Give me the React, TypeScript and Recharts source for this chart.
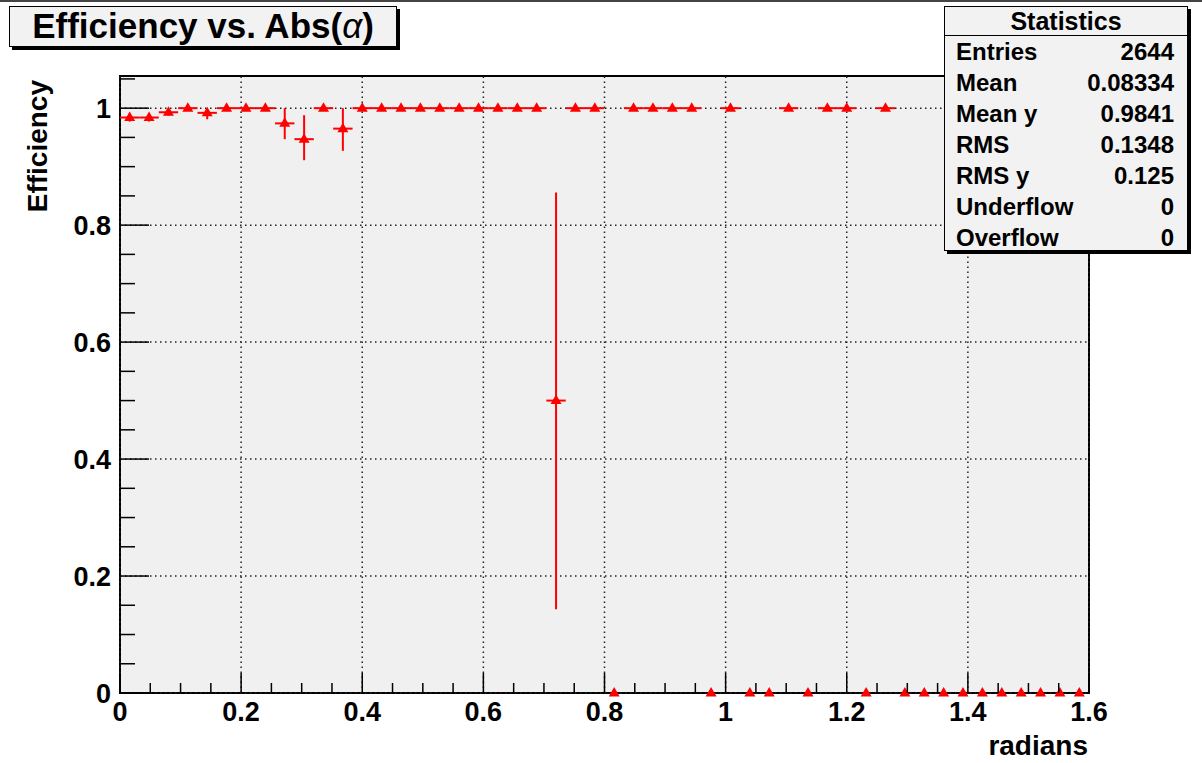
import React from 'react';
import {
  ComposedChart,
  Scatter,
  XAxis,
  YAxis,
  ErrorBar,
  ReferenceLine,
  ReferenceArea,
} from 'recharts';

// ---- histogram binning ----
const X_MIN = 0;
const X_MAX = 1.6;
const N_BINS = 50;
const Y_MAX = 1.055;

// ---- series values (efficiency per bin) ----
const efficiency = [
  0.984, 0.984, 0.993, 1, 0.992, 1, 1, 1, 0.974, 0.947,
  1, 0.965, 1, 1, 1, 1, 1, 1, 1, 1,
  1, 1, 0.5, 1, 1, 0, 1, 1, 1, 1,
  0, 1, 0, 0, 1, 0, 1, 1, 0, 1,
  0, 0, 0, 0, 0, 0, 0, 0, 0, 0,
];
const errLow = [
  0.007, 0.007, 0.006, 0, 0.011, 0, 0, 0, 0.027, 0.036,
  0, 0.038, 0, 0, 0, 0, 0, 0, 0, 0,
  0, 0, 0.357, 0, 0, 0, 0, 0, 0, 0,
  0, 0, 0, 0, 0, 0, 0, 0, 0, 0,
  0, 0, 0, 0, 0, 0, 0, 0, 0, 0,
];
const errHigh = [
  0.007, 0.007, 0.005, 0, 0.006, 0, 0, 0, 0.026, 0.041,
  0, 0.035, 0, 0, 0, 0, 0, 0, 0, 0,
  0, 0, 0.356, 0, 0, 0, 0, 0, 0, 0,
  0, 0, 0, 0, 0, 0, 0, 0, 0, 0,
  0, 0, 0, 0, 0, 0, 0, 0, 0, 0,
];

// ---- tick labels ----
const xMajorTicks = [0, 0.2, 0.4, 0.6, 0.8, 1, 1.2, 1.4, 1.6];
const yMajorTicks = [0, 0.2, 0.4, 0.6, 0.8, 1];
const MINOR_STEP = 0.05;

// ---- statistics box ----
const statLabels = ['Entries', 'Mean', 'Mean y', 'RMS', 'RMS y', 'Underflow', 'Overflow'];
const statValues = ['2644', '0.08334', '0.9841', '0.1348', '0.125', '0', '0'];

const binWidth = (X_MAX - X_MIN) / N_BINS;
const data = efficiency.map((v, i) => ({
  x: X_MIN + (i + 0.5) * binWidth,
  y: v,
  xe: v > 0 ? binWidth / 2 : 0,
  ye: [errLow[i], errHigh[i]],
}));

const makeTicks = (max: number) => {
  const out: number[] = [];
  for (let k = 0; k * MINOR_STEP <= max + 1e-9; k++) out.push(Math.round(k * MINOR_STEP * 100) / 100);
  return out;
};
const xTicks = makeTicks(X_MAX);
const yTicks = makeTicks(Y_MAX);

const FONT = '"Liberation Sans", Arial, Helvetica, sans-serif';
const RED = '#ff0000';

const isMajor = (list: number[], v: number) => list.some((t) => Math.abs(t - v) < 1e-6);
const fmt = (v: number) => String(Math.round(v * 100) / 100);

const YTick = (props: any) => {
  const { x, y, payload } = props;
  const v = payload.value;
  const major = isMajor(yMajorTicks, v);
  return (
    <g>
      <line x1={x} x2={x + (major ? 29 : 15)} y1={y} y2={y} stroke="#000" strokeWidth={1.5} />
      {major && (
        <text x={x - 9} y={y + 10} textAnchor="end" fontFamily={FONT} fontWeight="bold" fontSize={27} fill="#000">
          {fmt(v)}
        </text>
      )}
    </g>
  );
};

const XTick = (props: any) => {
  const { x, y, payload } = props;
  const v = payload.value;
  const major = isMajor(xMajorTicks, v);
  return (
    <g>
      <line x1={x} x2={x} y1={y} y2={y - (major ? 20 : 10)} stroke="#000" strokeWidth={1.5} />
      {major && (
        <text x={x} y={y + 28} textAnchor="middle" fontFamily={FONT} fontWeight="bold" fontSize={27} fill="#000">
          {fmt(v)}
        </text>
      )}
    </g>
  );
};

const Triangle = (props: any) => {
  const { cx, cy } = props;
  if (cx == null || cy == null) return null;
  return (
    <polygon
      points={`${cx},${cy - 6} ${cx + 5.5},${cy + 3.5} ${cx - 5.5},${cy + 3.5}`}
      fill={RED}
    />
  );
};

export default function App() {
  return (
    <div style={{ position: 'absolute', left: 0, top: 0, width: 1202, height: 763, background: '#fff' }}>
      <div style={{ position: 'absolute', left: 0, top: 0, width: 1202, height: 2, background: '#444' }} />
      <ComposedChart
        width={1202}
        height={763}
        data={data}
        margin={{ top: 76, right: 113, bottom: 0, left: 0 }}
      >
        <XAxis
          type="number"
          dataKey="x"
          domain={[X_MIN, X_MAX]}
          ticks={xTicks}
          interval={0}
          tick={<XTick />}
          tickLine={false}
          axisLine={false}
          tickSize={0}
          tickMargin={0}
          height={70}
        />
        <YAxis
          type="number"
          dataKey="y"
          domain={[0, Y_MAX]}
          ticks={yTicks}
          interval={0}
          tick={<YTick />}
          tickLine={false}
          axisLine={false}
          tickSize={0}
          tickMargin={0}
          width={120}
        />
        <ReferenceArea x1={X_MIN} x2={X_MAX} y1={0} y2={Y_MAX} fill="#f0f0f0" fillOpacity={1} stroke="#000" strokeWidth={2} />
        {xMajorTicks.map((t) => (
          <ReferenceLine key={'gx' + t} x={t} stroke="#222" strokeWidth={1.5} strokeDasharray="1.5 3.5" />
        ))}
        {yMajorTicks.map((t) => (
          <ReferenceLine key={'gy' + t} y={t} stroke="#222" strokeWidth={1.5} strokeDasharray="1.5 3.5" />
        ))}
        <Scatter dataKey="y" shape={<Triangle />} isAnimationActive={false}>
          <ErrorBar dataKey="xe" direction="x" width={0} stroke={RED} strokeWidth={2} />
          <ErrorBar dataKey="ye" direction="y" width={0} stroke={RED} strokeWidth={2} />
        </Scatter>
        <text
          x={47}
          y={80}
          transform="rotate(-90, 47, 80)"
          textAnchor="end"
          fontFamily={FONT}
          fontWeight="bold"
          fontSize={28}
          fill="#000"
        >
          Efficiency
        </text>
        <text x={1088} y={755} textAnchor="end" fontFamily={FONT} fontWeight="bold" fontSize={28} fill="#000">
          radians
        </text>
      </ComposedChart>

      {/* title box */}
      <div
        style={{
          position: 'absolute',
          left: 9,
          top: 6,
          width: 388,
          height: 41,
          boxSizing: 'border-box',
          border: '1.5px solid #000',
          background: '#f2f2f2',
          boxShadow: '3px 3px 0 #000',
          fontFamily: FONT,
          fontWeight: 'bold',
          fontSize: 35,
          lineHeight: '38px',
          textAlign: 'center',
          color: '#000',
          whiteSpace: 'nowrap',
        }}
      >
        Efficiency vs. Abs(<span style={{ fontWeight: 400, fontStyle: 'italic' }}>α</span>)
      </div>

      {/* statistics box */}
      <div
        style={{
          position: 'absolute',
          left: 944,
          top: 6,
          width: 244,
          height: 245,
          boxSizing: 'border-box',
          border: '1.5px solid #000',
          background: '#f2f2f2',
          boxShadow: '3px 3px 0 #000',
          fontFamily: FONT,
          fontWeight: 'bold',
          color: '#000',
        }}
      >
        <div
          style={{
            position: 'absolute',
            left: 0,
            top: 0,
            right: 0,
            height: 28,
            borderBottom: '1.5px solid #000',
            textAlign: 'center',
            fontSize: 25,
            lineHeight: '29px',
          }}
        >
          Statistics
        </div>
        {statLabels.map((label, i) => (
          <div
            key={label}
            style={{
              position: 'absolute',
              left: 11,
              right: 13,
              top: 52 + 31 * i - 6 - 1.5 - 13,
              height: 26,
              lineHeight: '26px',
              fontSize: 24,
              display: 'flex',
              justifyContent: 'space-between',
            }}
          >
            <span>{label}</span>
            <span>{statValues[i]}</span>
          </div>
        ))}
      </div>
    </div>
  );
}
